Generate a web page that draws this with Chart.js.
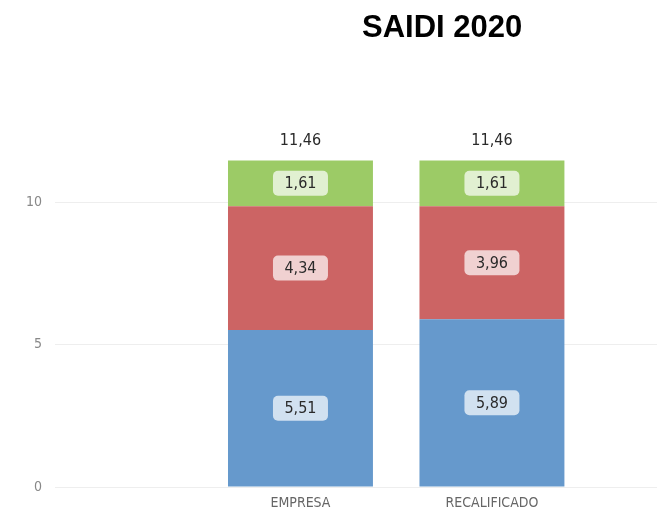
<!DOCTYPE html>
<html>
<head>
<meta charset="utf-8">
<script src="https://cdn.jsdelivr.net/npm/chart.js@4"></script>
<style>
  html, body { margin: 0; padding: 0; background: #fff; }
  #wrap { position: relative; width: 657px; height: 511px; }
  #title {
    position: absolute; left: 362px; top: 11px;
    font: bold 31px "Liberation Sans", Arial, sans-serif; line-height: 31px;
    color: #000; white-space: nowrap;
  }
</style>
</head>
<body>
<div id="wrap">
  <canvas id="chart" width="657" height="511"></canvas>
  <div id="title">SAIDI 2020</div>
</div>
<script>
// Chart data
const categories = ['EMPRESA', 'RECALIFICADO'];
const blueValues = [5.51, 5.89];
const redValues = [4.34, 3.96];
const greenValues = [1.61, 1.61];
const yTicks = [0, 5, 10];

const fmt = v => v.toFixed(2).replace('.', ',');
const toPoints = values => values.map((v, i) => ({ x: i + 1, y: v }));

// Draw value boxes inside segments and totals on top
const labelPlugin = {
    id: 'segmentLabels',
    afterDatasetsDraw(chart) {
        const ctx = chart.ctx;
        ctx.save();
        ctx.font = '16px "DejaVu Sans Condensed", "DejaVu Sans", sans-serif';
        ctx.textAlign = 'center';
        ctx.textBaseline = 'middle';

        chart.data.datasets.forEach((ds, di) => {
            const meta = chart.getDatasetMeta(di);
            meta.data.forEach((bar, i) => {
                const cy = (bar.y + bar.base) / 2;
                const w = 55, h = 25;
                ctx.fillStyle = 'rgba(255,255,255,0.7)';
                ctx.beginPath();
                ctx.roundRect(bar.x - w / 2, cy - h / 2, w, h, 5);
                ctx.fill();
                ctx.fillStyle = '#2a2a2a';
                ctx.fillText(fmt(ds.data[i].y), bar.x, cy + 1);
            });
        });

        // Totals
        const last = chart.getDatasetMeta(chart.data.datasets.length - 1);
        last.data.forEach((bar, i) => {
            const total = blueValues[i] + redValues[i] + greenValues[i];
            ctx.fillStyle = '#2a2a2a';
            ctx.fillText(fmt(total), bar.x, bar.y - 20);
        });
        ctx.restore();
    }
};

const ctx = document.getElementById('chart').getContext('2d');
new Chart(ctx, {
    type: 'bar',
    data: {
        datasets: [
            { label: 'A', data: toPoints(blueValues), backgroundColor: '#6699cc', stack: 's' },
            { label: 'B', data: toPoints(redValues), backgroundColor: '#cc6464', stack: 's' },
            { label: 'C', data: toPoints(greenValues), backgroundColor: '#9ccb66', stack: 's' }
        ]
    },
    options: {
        responsive: false,
        animation: false,
        layout: { padding: { top: 145, right: 0, left: 0, bottom: 0 } },
        datasets: { bar: { barPercentage: 1, categoryPercentage: 0.757, borderWidth: 0 } },
        plugins: { legend: { display: false }, tooltip: { enabled: false } },
        scales: {
            x: {
                type: 'linear',
                offset: false,
                bounds: 'data',
                min: -0.282,
                max: 2.862,
                grid: { display: false },
                border: { display: false },
                afterBuildTicks: scale => { scale.ticks = categories.map((_, i) => ({ value: i + 1 })); },
                afterFit: scale => { scale.height = 24; },
                ticks: {
                    autoSkip: false,
                    maxRotation: 0,
                    padding: 0,
                    color: '#666',
                    font: { family: '"DejaVu Sans Condensed", "DejaVu Sans", sans-serif', size: 14 },
                    callback: v => categories[v - 1] || ''
                }
            },
            y: {
                stacked: true,
                min: 0,
                max: 12,
                grid: { color: '#eeeeee', drawTicks: false, lineWidth: 1 },
                border: { display: false },
                afterBuildTicks: scale => { scale.ticks = yTicks.map(v => ({ value: v })); },
                afterFit: scale => { scale.width = 55; },
                ticks: {
                    padding: 13,
                    color: '#888',
                    font: { family: '"DejaVu Sans Condensed", "DejaVu Sans", sans-serif', size: 14 }
                }
            }
        }
    },
    plugins: [labelPlugin]
});
</script>
</body>
</html>
